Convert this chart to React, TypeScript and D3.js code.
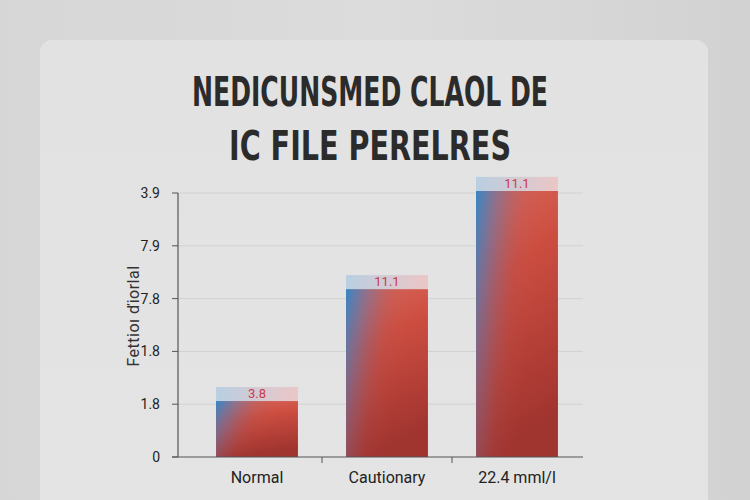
import React from "react";
import * as d3 from "d3";

const categories = ["Normal", "Cautionary", "22.4 mml/l"];
const values = [1.06, 3.18, 5.04];
const valueLabels = ["3.8", "11.1", "11.1"];
const tickValues = [0, 1, 2, 3, 4, 5];
const tickLabels = ["0", "1.8", "1.8", "7.8", "7.9", "3.9"];
const titleLines = ["NEDICUNSMED CLAOL DE", "IC FILE PERELRES"];
const yAxisTitle = "Fettioı ďiorlal";

export default function App() {
  const W = 750, H = 500;
  const axisX = 178, axisRight = 583;
  const y = d3.scaleLinear().domain([0, 5]).range([457, 193]);
  const x = d3.scaleBand<string>().domain(categories).range([192, 582]).paddingInner(0.37).paddingOuter(0.185);
  const bw = x.bandwidth();
  const capH = 14;
  const font = "Roboto, 'Liberation Sans', Arial, sans-serif";
  const boundaries = categories.slice(0, -1).map((c) => (x(c) as number) + bw + (x.step() * x.paddingInner()) / 2);

  return (
    <svg width={W} height={H} style={{ position: "absolute", left: 0, top: 0 }}>
      <defs>
        <linearGradient id="bg" x1="0" y1="0" x2="1" y2="0">
          <stop offset="0" stopColor="#d6d6d6" />
          <stop offset="0.5" stopColor="#dcdcdc" />
          <stop offset="1" stopColor="#d2d2d2" />
        </linearGradient>
        <linearGradient id="card" x1="0" y1="0" x2="0" y2="1">
          <stop offset="0" stopColor="#e2e2e2" />
          <stop offset="1" stopColor="#e4e4e4" />
        </linearGradient>
        <linearGradient id="barBase" x1="0" y1="0" x2="0.2" y2="1">
          <stop offset="0" stopColor="#d8685a" />
          <stop offset="0.35" stopColor="#cc4d40" />
          <stop offset="1" stopColor="#a0342f" />
        </linearGradient>
        <linearGradient id="barBlue" x1="0" y1="0" x2="0.75" y2="0.3">
          <stop offset="0" stopColor="#2a88cc" stopOpacity="0.95" />
          <stop offset="0.3" stopColor="#5a7cb6" stopOpacity="0.55" />
          <stop offset="0.7" stopColor="#a06070" stopOpacity="0.12" />
          <stop offset="1" stopColor="#c85048" stopOpacity="0" />
        </linearGradient>
        <linearGradient id="cap" x1="0" y1="0" x2="1" y2="0">
          <stop offset="0" stopColor="#b9cfe2" />
          <stop offset="1" stopColor="#ecc6c6" />
        </linearGradient>
      </defs>
      <rect x={0} y={0} width={W} height={H} fill="url(#bg)" />
      <rect x={40} y={40} width={668} height={490} rx={12} fill="url(#card)" />

      {titleLines.map((t, i) => (
        <text
          key={i}
          x={370}
          y={i === 0 ? 106 : 160}
          textAnchor="middle"
          fontFamily="'DejaVu Sans Condensed', 'DejaVu Sans', sans-serif"
          fontWeight="bold"
          fontSize={41}
          fill="#2b2b2b"
          textLength={i === 0 ? 356 : 282}
          lengthAdjust="spacingAndGlyphs"
        >
          {t}
        </text>
      ))}

      {tickValues.slice(1).map((v) => (
        <line key={v} x1={axisX} x2={axisRight} y1={y(v)} y2={y(v)} stroke="#d2d2d2" strokeWidth={1} />
      ))}

      {categories.map((c, i) => {
        const bx = x(c) as number;
        const top = y(values[i]);
        const h = y(0) - top;
        return (
          <g key={c}>
            <rect x={bx} y={top} width={bw} height={h} fill="url(#barBase)" />
            <rect x={bx} y={top} width={bw} height={h} fill="url(#barBlue)" />
            <rect x={bx} y={top - capH} width={bw} height={capH} fill="url(#cap)" />
            <text x={bx + bw / 2} y={top - 3} textAnchor="middle" fontFamily={font} fontSize={13} fill="#c93b4a">
              {valueLabels[i]}
            </text>
          </g>
        );
      })}

      <line x1={axisX} x2={axisX} y1={y(5)} y2={y(0)} stroke="#555" strokeWidth={1.2} />
      <line x1={axisX - 6} x2={axisRight} y1={y(0)} y2={y(0)} stroke="#555" strokeWidth={1.2} />
      {tickValues.map((v, i) => (
        <g key={v}>
          <line x1={axisX - 6} x2={axisX} y1={y(v)} y2={y(v)} stroke="#555" strokeWidth={1} />
          <text x={160} y={y(v) + 5} textAnchor="end" fontFamily={font} fontSize={14} fill="#222">
            {tickLabels[i]}
          </text>
        </g>
      ))}
      {boundaries.map((bx, i) => (
        <line key={i} x1={bx} x2={bx} y1={y(0)} y2={y(0) + 6} stroke="#555" strokeWidth={1} />
      ))}
      {categories.map((c) => (
        <text key={c} x={(x(c) as number) + bw / 2} y={483} textAnchor="middle" fontFamily={font} fontSize={16} fill="#222">
          {c}
        </text>
      ))}
      <text
        transform={`translate(139,316) rotate(-90)`}
        textAnchor="middle"
        fontFamily={font}
        fontSize={16}
        letterSpacing={0.5}
        fill="#333"
      >
        {yAxisTitle}
      </text>
    </svg>
  );
}
